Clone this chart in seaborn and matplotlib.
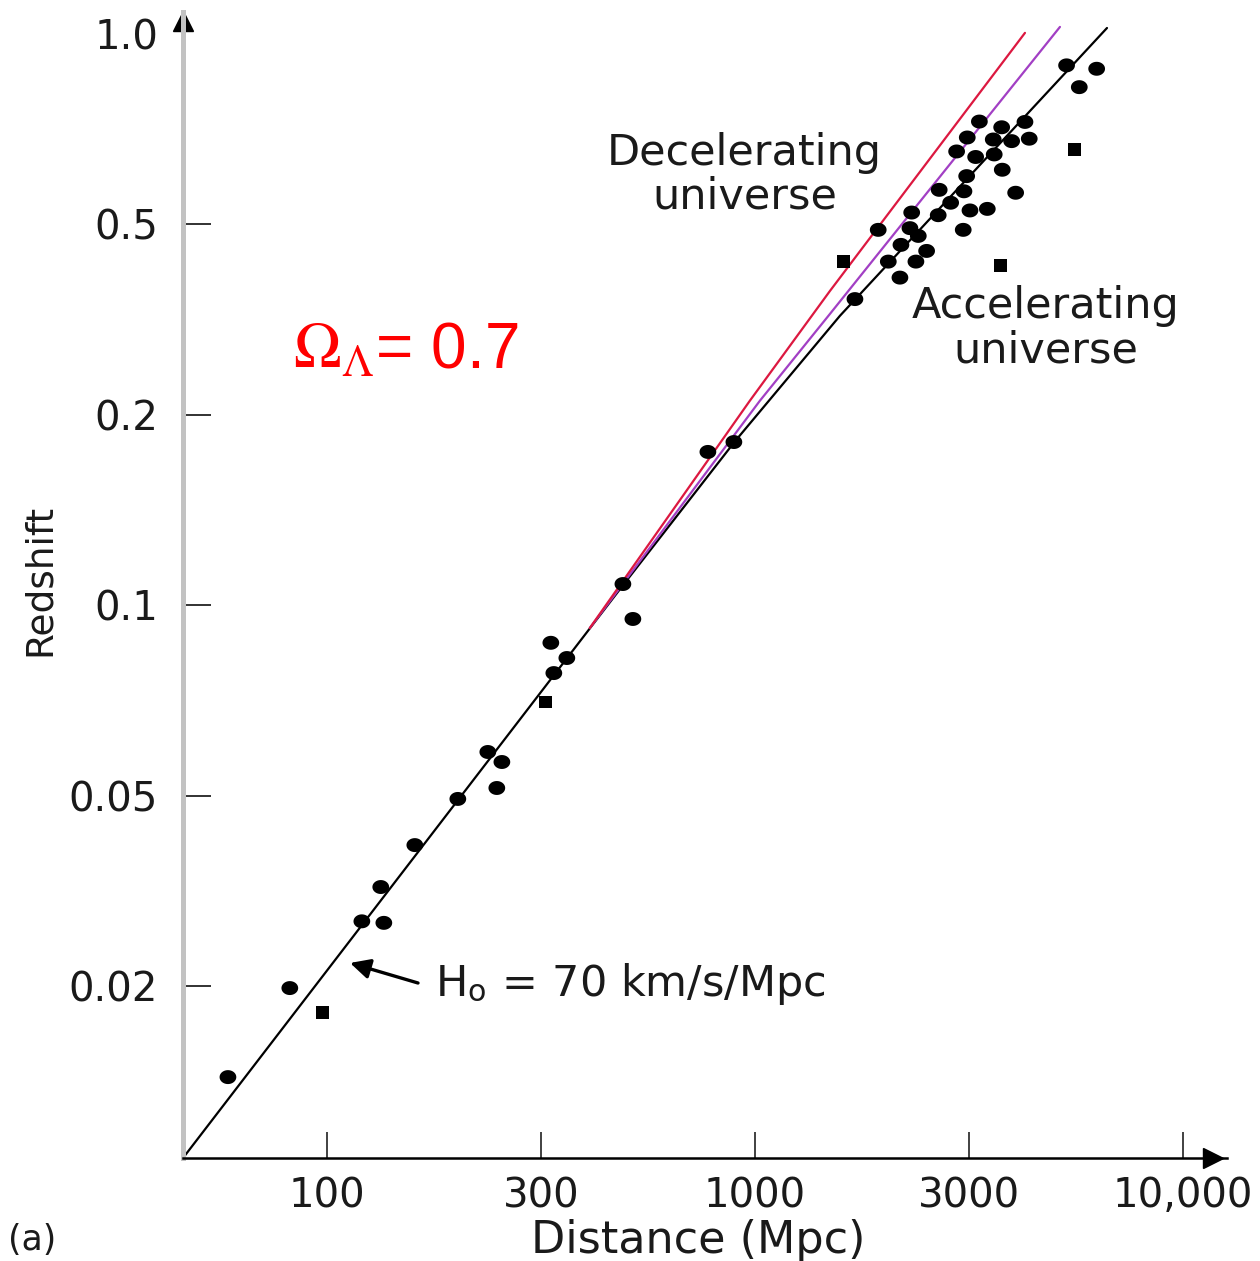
import numpy as np
import pandas as pd
import matplotlib
matplotlib.use("Agg")
import matplotlib.pyplot as plt
from matplotlib.path import Path
from matplotlib.ticker import FixedLocator, FixedFormatter, NullLocator
import seaborn as sns

# ---------------------------------------------------------------- data
distance_ticks = [100, 300, 1000, 3000, 10000]
distance_tick_labels = ["100", "300", "1000", "3000", "10,000"]
redshift_ticks = [0.02, 0.05, 0.1, 0.2, 0.5, 1.0]
redshift_tick_labels = ["0.02", "0.05", "0.1", "0.2", "0.5", "1.0"]

# supernova distances (Mpc), redshifts and marker shapes
sn_distance = [
    60.2, 82.7, 98.0, 119.7, 134.0, 131.9, 157.1, 195.9, 228.5, 245.6,
    239.3, 308.5, 317.3, 322.7, 347.2, 475.9, 503.4, 767.6, 888.5,
    5195, 6153, 5580, 5425, 3181, 3606, 4111, 2974, 3439, 3814,
    4211, 2816, 3115, 3458, 3618, 2965, 3901, 2575, 2924, 2731,
    2236, 2562, 3017, 3326, 2913, 2216, 2313, 1883, 2116, 2414,
    1983, 2285, 2105, 1573, 3585, 1671,
]
sn_redshift = [
    0.0129, 0.0198, 0.0176, 0.0273, 0.0271, 0.0322, 0.0394, 0.0492, 0.0586, 0.0565,
    0.0514, 0.0703, 0.0872, 0.0781, 0.0825, 0.108, 0.0951, 0.1747, 0.1811,
    0.892, 0.881, 0.824, 0.656, 0.727, 0.712, 0.726, 0.686, 0.681, 0.677,
    0.683, 0.652, 0.639, 0.645, 0.610, 0.596, 0.561, 0.567, 0.564, 0.541,
    0.522, 0.517, 0.526, 0.529, 0.487, 0.491, 0.473, 0.487, 0.453, 0.440,
    0.418, 0.418, 0.387, 0.418, 0.410, 0.349,
]
sn_shape = [
    "round", "round", "square", "round", "round", "round", "round", "round", "round", "round",
    "round", "square", "round", "round", "round", "round", "round", "round", "round",
    "round", "round", "round", "square", "round", "round", "round", "round", "round", "round",
    "round", "round", "round", "round", "round", "round", "round", "round", "round", "round",
    "round", "round", "round", "round", "round", "round", "round", "round", "round", "round",
    "round", "round", "round", "square", "square", "round",
]

# Hubble law line (H0 = 70 km/s/Mpc) and the two model curves
hubble_distance = [47.8, 476, 894, 1547, 6521]
hubble_redshift = [0.00874, 0.1075, 0.1816, 0.322, 1.022]
decel_distance = [395, 972, 1470, 4111]
decel_redshift = [0.092, 0.214, 0.363, 1.004]
middle_distance = [395, 1026, 1470, 5005]
middle_redshift = [0.092, 0.214, 0.325, 1.026]


# ------------------------------------------------------ axis scale
def tick_index_scale(ticks):
    """Scale placing the given tick values at equal spacing,
    log-interpolated in between and extrapolated past the ends."""
    logs = np.log10(np.asarray(ticks, float))
    steps = np.arange(len(ticks), dtype=float)
    lo_slope = logs[1] - logs[0]
    hi_slope = logs[-1] - logs[-2]

    def forward(v):
        lv = np.log10(np.maximum(np.asarray(v, float), 1e-12))
        out = np.interp(lv, logs, steps)
        out = np.where(lv < logs[0], (lv - logs[0]) / lo_slope, out)
        out = np.where(lv > logs[-1], steps[-1] + (lv - logs[-1]) / hi_slope, out)
        return out

    def inverse(u):
        u = np.asarray(u, float)
        lv = np.interp(u, steps, logs)
        lv = np.where(u < 0, logs[0] + u * lo_slope, lv)
        lv = np.where(u > steps[-1], logs[-1] + (u - steps[-1]) * hi_slope, lv)
        return 10 ** lv

    return forward, inverse


# ---------------------------------------------------------- styling
sns.set_style("white")
plt.rcParams["font.family"] = ["DejaVu Sans"]
plt.rcParams["mathtext.fontset"] = "stix"

ink = "#1a1a1a"

fig = plt.figure(figsize=(12.6, 12.61), dpi=100)
ax = fig.add_axes([0.14524, 0.08168, 0.82857, 0.90881])

ax.set_xscale("function", functions=tick_index_scale(distance_ticks))
ax.set_yscale("function", functions=tick_index_scale(redshift_ticks))
ax.set_xlim(47.8, 12808)
ax.set_ylim(0.00874, 1.0833)

# ----------------------------------------------------------- lines
sns.lineplot(x=hubble_distance, y=hubble_redshift, sort=False, estimator=None,
             color="black", lw=1.6, ax=ax)
sns.lineplot(x=middle_distance, y=middle_redshift, sort=False, estimator=None,
             color="#a23fc4", lw=1.6, ax=ax)
sns.lineplot(x=decel_distance, y=decel_redshift, sort=False, estimator=None,
             color="#dc1840", lw=1.6, ax=ax)

# ---------------------------------------------------------- points
theta = np.linspace(0, 2 * np.pi, 64)
oval = Path(np.column_stack([1.2 * np.cos(theta), np.sin(theta)]))

sn = pd.DataFrame({"distance": sn_distance, "redshift": sn_redshift, "shape": sn_shape})
sns.scatterplot(data=sn, x="distance", y="redshift", style="shape", size="shape",
                markers={"round": oval, "square": "s"},
                sizes={"round": 145, "square": 85},
                color="black", linewidth=0, legend=False, ax=ax, zorder=5)

# ------------------------------------------------------------ axes
for side in ("top", "right"):
    ax.spines[side].set_visible(False)
ax.spines["left"].set_color("#c2c2c2")
ax.spines["left"].set_linewidth(3.6)
ax.spines["bottom"].set_color("black")
ax.spines["bottom"].set_linewidth(1.8)

ax.xaxis.set_major_locator(FixedLocator(distance_ticks))
ax.xaxis.set_major_formatter(FixedFormatter(distance_tick_labels))
ax.xaxis.set_minor_locator(NullLocator())

# all but the top redshift get a tick mark; the top label sits by the arrow head
ax.yaxis.set_major_locator(FixedLocator(redshift_ticks[:-1]))
ax.yaxis.set_major_formatter(FixedFormatter(redshift_tick_labels[:-1]))
ax.yaxis.set_minor_locator(FixedLocator(redshift_ticks[-1:]))
ax.yaxis.set_minor_formatter(FixedFormatter(redshift_tick_labels[-1:]))

ax.tick_params(axis="x", bottom=True, direction="in", length=19, width=1.3,
               color="#333333", pad=13, labelsize=29, labelcolor=ink)
ax.tick_params(axis="y", which="major", left=True, direction="in", length=20,
               width=1.3, color="#222222", pad=18, labelsize=29, labelcolor=ink)
ax.tick_params(axis="y", which="minor", left=True, direction="in", length=0,
               pad=18, labelsize=29, labelcolor=ink)

ax.set_xlabel("Distance (Mpc)", fontsize=32, color=ink)
ax.xaxis.label.set_va("center")
ax.xaxis.set_label_coords(0.493, -0.0716)
ax.set_ylabel("Redshift", fontsize=27, color=ink)
ax.yaxis.label.set_va("center")
ax.yaxis.set_label_coords(-0.137, 0.504)

# arrow heads on the axes
ax.plot(0, 0.992, marker="^", color="black", markersize=14,
        transform=ax.transAxes, clip_on=False)
ax.plot(0.9866, 0, marker=">", color="black", markersize=14,
        transform=ax.transAxes, clip_on=False)

# ---------------------------------------------------------- labels
ax.text(0.538, 0.858, "Decelerating\nuniverse", transform=ax.transAxes,
        ha="center", va="center", fontsize=31, linespacing=1.05, color=ink)
ax.text(0.826, 0.724, "Accelerating\nuniverse", transform=ax.transAxes,
        ha="center", va="center", fontsize=31, linespacing=1.05, color=ink)

ax.text(0.2414, 0.1414, r"H$_\mathregular{o}$ = 70 km/s/Mpc", transform=ax.transAxes,
        ha="left", va="baseline", fontsize=31, color=ink)
ax.annotate("", xy=(0.160, 0.1702), xytext=(0.2251, 0.1527),
            xycoords="axes fraction", textcoords="axes fraction",
            arrowprops=dict(arrowstyle="-|>", color="black", lw=2.4,
                            mutation_scale=30, shrinkA=0, shrinkB=0))

ax.text(0.1054, 0.690, r"$\Omega_\Lambda$= 0.7", transform=ax.transAxes,
        ha="left", va="baseline", fontsize=46, color="red",
        family=["Liberation Sans", "DejaVu Sans"])

fig.text(8 / 1260, 1 - 1240 / 1261, "(a)", fontsize=25, ha="left", va="center", color=ink)

fig.savefig("out.png", dpi=100)
